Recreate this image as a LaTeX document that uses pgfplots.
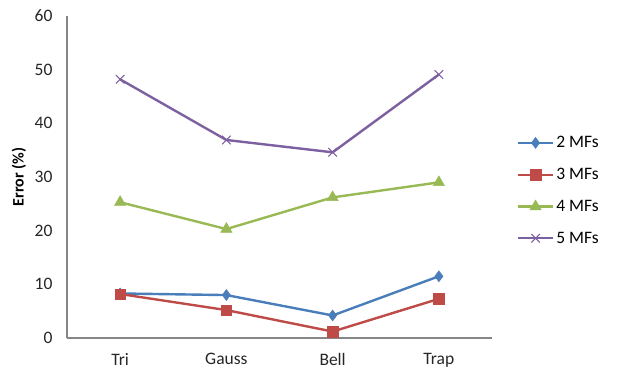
\documentclass[border=0pt]{standalone}
\usepackage{fontspec}
\setmainfont{Carlito}
\usepackage{pgfplots}
\pgfplotsset{compat=1.18}
\definecolor{axisgray}{HTML}{868686}
\definecolor{mfblue}{HTML}{4A7EBB}
\definecolor{mfred}{HTML}{BE4B48}
\definecolor{mfgreen}{HTML}{98B954}
\definecolor{mfpurple}{HTML}{7D60A0}
\begin{document}
\begin{tikzpicture}[x=1pt,y=1pt]
\path[use as bounding box] (0,0) rectangle (618,373);
\begin{axis}[
  at={(67pt,35pt)}, anchor=south west,
  width=425pt, height=322pt, scale only axis,
  xmin=-0.5, xmax=3.5, ymin=0, ymax=60,
  xtick={0,1,2,3}, xticklabels={Tri,Gauss,Bell,Trap},
  ytick={0,10,...,60},
  axis x line*=bottom, axis y line*=left,
  axis line style={draw=axisgray, line width=1.2pt, -},
  major tick length=0pt,
  /pgf/number format/assume math mode=true,
  tick label style={font=\fontsize{17.5}{20}\selectfont, text=black!85},
  yticklabel style={xshift=-11pt},
  xticklabel style={yshift=-12pt},
  ylabel={\bfseries Error (\%)},
  ylabel style={font=\fontsize{16}{19}\selectfont, at={(-0.088,0.5)}},
  legend style={draw=none, fill=none, at={(1.058,0.458)}, anchor=west,
    font=\fontsize{17.5}{20}\selectfont, row sep=15pt, inner xsep=0pt,
    nodes={inner xsep=2pt}},
  legend cell align=left,
  legend image code/.code={\draw[mark repeat=2,mark phase=2]
    plot coordinates {(0pt,0pt) (17.5pt,0pt) (35pt,0pt)};},
  every axis plot/.append style={line width=2.4pt},
]
\addplot[mfblue, mark=diamond*, mark size=5.5pt, mark options={line width=0.5pt}]
  coordinates {(0,8.3) (1,8.0) (2,4.2) (3,11.5)};
\addlegendentry{2 MFs}
\addplot[mfred, mark=square*, mark size=5.2pt, mark options={line width=0.5pt}]
  coordinates {(0,8.2) (1,5.2) (2,1.2) (3,7.3)};
\addlegendentry{3 MFs}
\addplot[mfgreen, mark=triangle*, mark size=6.5pt, mark options={line width=0.5pt}]
  coordinates {(0,25.3) (1,20.3) (2,26.2) (3,29.0)};
\addlegendentry{4 MFs}
\addplot[mfpurple, mark=x, mark size=6pt, mark options={line width=1.1pt}]
  coordinates {(0,48.2) (1,36.9) (2,34.6) (3,49.1)};
\addlegendentry{5 MFs}
\end{axis}
\end{tikzpicture}
\end{document}
